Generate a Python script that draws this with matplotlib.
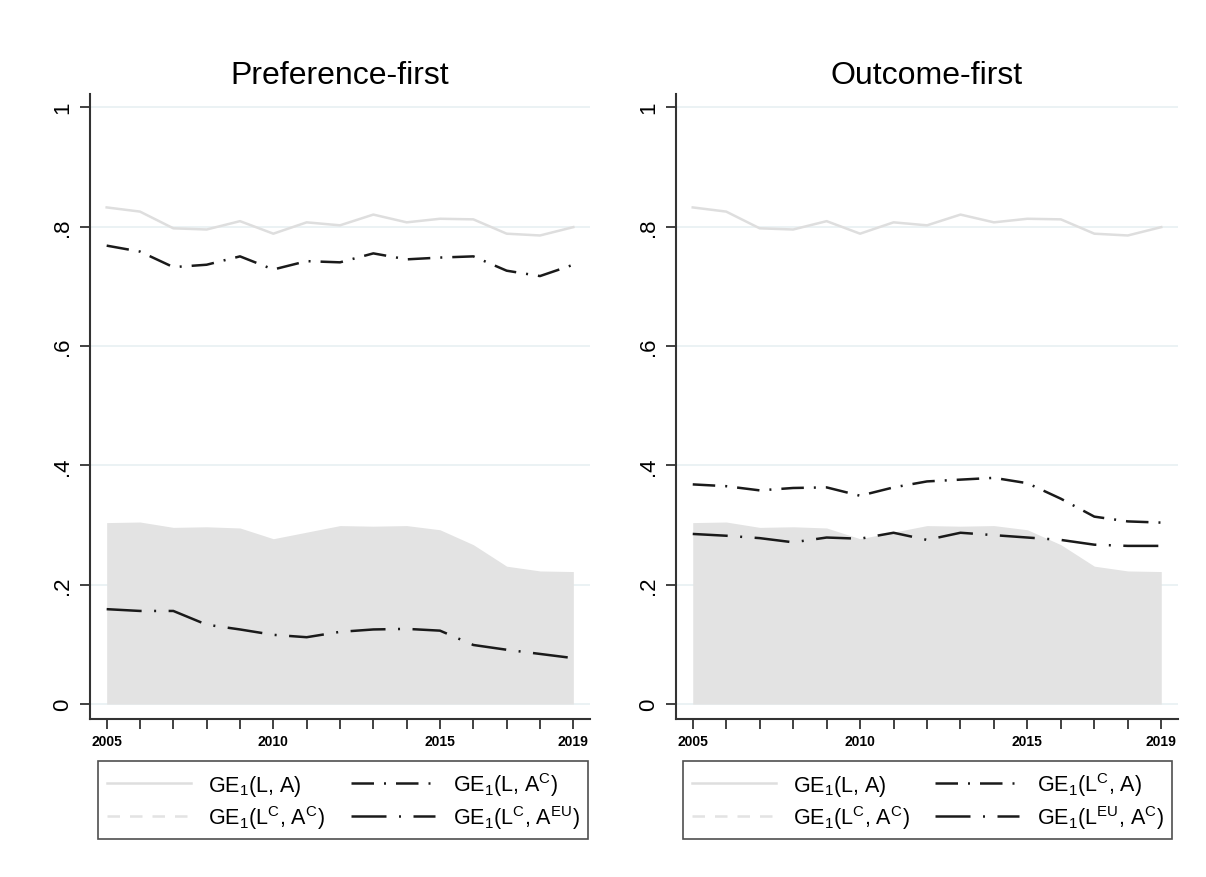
import matplotlib
matplotlib.use("Agg")
import matplotlib.pyplot as plt
from matplotlib.ticker import FixedLocator
from matplotlib.lines import Line2D

plt.rcParams['font.family'] = ['Liberation Sans', 'DejaVu Sans']
plt.rcParams['mathtext.fontset'] = 'custom'
plt.rcParams['mathtext.rm'] = 'Liberation Sans'
plt.rcParams['mathtext.it'] = 'Liberation Sans'

years = list(range(2005, 2020))

# GE1(L, A) - same in both panels
ge_LA = [0.832, 0.825, 0.797, 0.795, 0.809, 0.788, 0.807, 0.802, 0.820,
         0.807, 0.813, 0.812, 0.788, 0.785, 0.799]
# GE1(L^C, A^C) - shaded area, same in both panels
ge_LC_AC = [0.304, 0.305, 0.296, 0.297, 0.295, 0.277, 0.288, 0.299, 0.298,
            0.299, 0.292, 0.267, 0.231, 0.223, 0.222]
# Preference-first
pref_L_AC = [0.768, 0.758, 0.732, 0.736, 0.750, 0.728, 0.742, 0.740, 0.755,
             0.745, 0.748, 0.750, 0.726, 0.717, 0.736]
pref_LC_AEU = [0.159, 0.156, 0.156, 0.133, 0.125, 0.116, 0.112, 0.121, 0.125,
               0.126, 0.123, 0.099, 0.091, 0.084, 0.077]
# Outcome-first
out_LC_A = [0.368, 0.365, 0.358, 0.362, 0.363, 0.349, 0.363, 0.373, 0.376,
            0.379, 0.370, 0.344, 0.314, 0.306, 0.304]
out_LEU_AC = [0.285, 0.282, 0.278, 0.271, 0.279, 0.277, 0.287, 0.275, 0.287,
              0.283, 0.279, 0.275, 0.267, 0.265, 0.265]

titles = ["Preference-first", "Outcome-first"]
y_ticks = [0, 0.2, 0.4, 0.6, 0.8, 1.0]
y_ticklabels = ["0", ".2", ".4", ".6", ".8", "1"]
x_ticks = [2005, 2010, 2015, 2019]

lbl_LA = r'GE$_1$(L, A)'
lbl_LCAC = r'GE$_1$(L$^{\mathrm{C}}$, A$^{\mathrm{C}}$)'
panels = [
    dict(title=titles[0], s1=pref_L_AC, s2=pref_LC_AEU,
         l1=r'GE$_1$(L, A$^{\mathrm{C}}$)',
         l2=r'GE$_1$(L$^{\mathrm{C}}$, A$^{\mathrm{EU}}$)'),
    dict(title=titles[1], s1=out_LC_A, s2=out_LEU_AC,
         l1=r'GE$_1$(L$^{\mathrm{C}}$, A)',
         l2=r'GE$_1$(L$^{\mathrm{EU}}$, A$^{\mathrm{C}}$)'),
]

W, H = 1206, 878
fig = plt.figure(figsize=(W / 100, H / 100), dpi=100)
fig.patch.set_facecolor('white')

axes_px = [(90, 590), (676, 1178)]
legend_px = [(98, 588), (683, 1172)]
top_px, bot_px = 95, 720

area_col = '#e3e3e3'
line_gray = '#dedede'
black = '#1a1a1a'
lw = 1.8

for p, (x0, x1), (lx0, lx1) in zip(panels, axes_px, legend_px):
    ax = fig.add_axes([x0 / W, 1 - bot_px / H, (x1 - x0) / W, (bot_px - top_px) / H])
    ax.set_xlim(2004.5, 2019.5)
    ax.set_ylim(-0.025, 1.022)
    for yt in y_ticks:
        ax.axhline(yt, color='#e8f0f2', lw=1.2, zorder=0)
    ax.fill_between(years, 0, ge_LC_AC, color=area_col, lw=0, zorder=1)
    h0, = ax.plot(years, ge_LA, color=line_gray, lw=lw, zorder=2)
    h_area = Line2D([], [], color=area_col, lw=lw, ls=(0, (5, 4)))
    h1, = ax.plot(years, p['s1'], color=black, lw=lw, ls=(0, (9, 4, 0.8, 4)),
                  zorder=3)
    h2, = ax.plot(years, p['s2'], color=black, lw=lw, ls=(0, (14, 5, 0.8, 5)),
                  zorder=3)
    for s in ['top', 'right']:
        ax.spines[s].set_visible(False)
    for s in ['left', 'bottom']:
        ax.spines[s].set_color('#333333')
        ax.spines[s].set_linewidth(1.5)
    ax.set_yticks(y_ticks)
    ax.set_yticklabels(y_ticklabels, rotation=90, va='center', fontsize=16)
    ax.set_xticks(x_ticks)
    ax.set_xticklabels([str(x) for x in x_ticks], fontsize=10, fontweight='bold')
    ax.xaxis.set_minor_locator(FixedLocator(years))
    ax.tick_params(axis='both', which='both', length=7, width=1.3,
                   color='#333333', direction='out')
    ax.tick_params(axis='x', pad=4)
    ax.tick_params(axis='y', pad=5)
    ax.set_title(p['title'], fontsize=23, pad=8)

    order = [lbl_LA, lbl_LCAC, p['l1'], p['l2']]
    leg = fig.legend([h0, h_area, h1, h2], order, ncol=2,
                     loc='upper left',
                     bbox_to_anchor=(lx0 / W, 1 - 762 / H, (lx1 - lx0) / W, 0),
                     mode='expand', fontsize=15.5, frameon=True, fancybox=False,
                     edgecolor='#222222', handlelength=3.9, handletextpad=0.8,
                     columnspacing=1.2, borderpad=0.4, labelspacing=0.25,
                     borderaxespad=0)
    leg.get_frame().set_linewidth(1.2)

fig.savefig('out.png', dpi=100, facecolor='white')
